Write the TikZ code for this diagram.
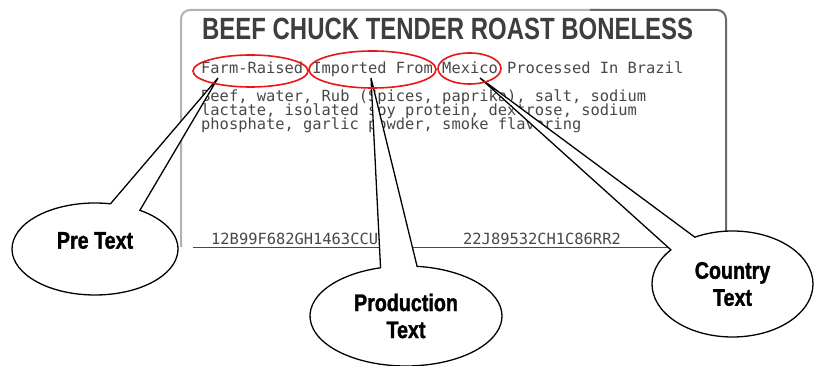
\documentclass[tikz,border=0pt]{standalone}
\usepackage{fontspec}
\usetikzlibrary{shapes.callouts,shapes.geometric}
\newfontfamily\calloutfont[FakeStretch=0.82,BoldFeatures={FakeBold=1.3}]{Liberation Sans}
\newfontfamily\titlefont[FakeStretch=0.78]{Liberation Sans}
\newfontfamily\labelmono{DejaVu Sans Mono}
\definecolor{ringred}{RGB}{232,22,22}
\definecolor{printgray}{RGB}{72,72,72}
\definecolor{titlegray}{RGB}{62,62,62}
\definecolor{framelight}{RGB}{178,178,178}
\definecolor{framedark}{RGB}{105,105,105}
\begin{document}
\begin{tikzpicture}[x=1pt,y=-1pt,
  callout/.style={ellipse callout, draw=black, fill=white, line width=1.3pt,
    inner sep=0pt, outer sep=0pt, callout pointer arc=22, align=center,
    text=black, font={\calloutfont\bfseries\fontsize{24}{27}\selectfont}},
  ring/.style={ellipse, draw=ringred, line width=1.6pt, inner sep=0pt, outer sep=0pt},
  mono/.style={anchor=base west, inner sep=0pt, text=printgray,
    font={\labelmono\fontsize{15.4}{14}\selectfont}},
  title/.style={anchor=base west, inner sep=0pt, text=titlegray,
    font={\titlefont\bfseries\fontsize{30.7}{32}\selectfont}}]
\useasboundingbox (0,0) rectangle (814,366);
\fill[white] (0,0) rectangle (814,366);

% label frame
\draw[framelight, line width=2pt, rounded corners=9pt] (181,247) -- (181,10) -- (600,10);
\draw[framedark, line width=2pt, rounded corners=9pt] (590,10) -- (726,10) -- (726,247);
\draw[printgray, line width=0.8pt] (193,247) -- (673,247);

% printed texts
\node[title] (title) at (202,40) {BEEF CHUCK TENDER ROAST BONELESS};
\node[mono] (origin) at (201,74) {Farm-Raised Imported From Mexico Processed In Brazil};
\node[mono] (ing1) at (201,102) {Beef, water, Rub (Spices, paprika), salt, sodium};
\node[mono] (ing2) at (201,116) {lactate, isolated soy protein, dextrose, sodium};
\node[mono] (ing3) at (201,130) {phosphate, garlic powder, smoke flavoring};
\node[mono] (code1) at (211,245) {12B99F682GH1463CCU};
\node[mono] (code2) at (463,245) {22J89532CH1C86RR2};

% pointer tips
\coordinate (pretip) at (218,78);
\coordinate (prodtip) at (371,78);
\coordinate (countrytip) at (480,78);

% callouts
\node[callout, minimum width=166pt, minimum height=92pt, text depth=17.2pt,
  callout absolute pointer={(pretip)}] (pre) at (95,249) {Pre Text};
\node[callout, minimum width=192pt, minimum height=100pt,
  callout absolute pointer={(prodtip)}] (prod) at (406,316) {Production\\Text};
\node[callout, minimum width=161pt, minimum height=106pt,
  callout absolute pointer={(countrytip)}] (country) at (732.5,284) {Country\\Text};

% red rings
\node[ring, minimum width=115pt, minimum height=32pt] (ringpre) at (250.5,71) {};
\node[ring, minimum width=127pt, minimum height=37pt] (ringprod) at (372.5,69.5) {};
\node[ring, minimum width=63pt, minimum height=31pt] (ringcountry) at (469.5,68.5) {};
\end{tikzpicture}
\end{document}
